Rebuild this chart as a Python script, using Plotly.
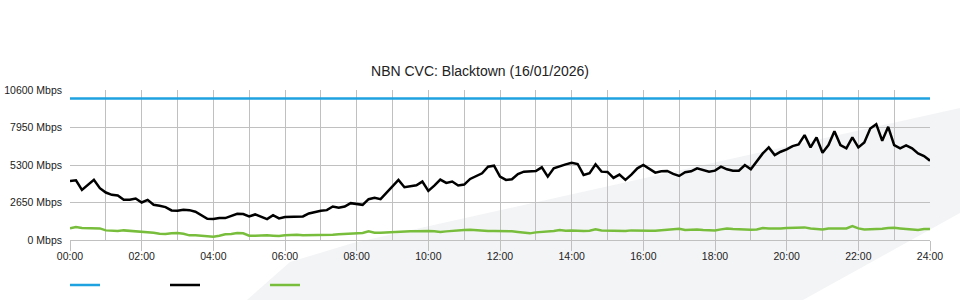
import plotly.graph_objects as go

# ---- data (10-minute samples, 00:00 .. 24:00) ----
capacity = 10000
traffic = [
    4174, 4220, 3540, 3893, 4260, 3659, 3354, 3190, 3143, 2838,
    2838, 2932, 2650, 2838, 2486, 2416, 2322, 2088, 2064, 2135,
    2111, 1994, 1736, 1501, 1478, 1550, 1548, 1712, 1853, 1830,
    1665, 1806, 1665, 1478, 1759, 1525, 1618, 1618, 1618, 1665,
    1876, 1994, 2064, 2111, 2369, 2275, 2369, 2603, 2565, 2486,
    2885, 2978, 2885, 3354, 3823, 4245, 3729, 3776, 3870, 4128,
    3471, 3847, 4268, 4034, 4128, 3847, 3917, 4315, 4526, 4714,
    5183, 5253, 4479, 4245, 4292, 4667, 4831, 4854, 4878, 5136,
    4479, 5066, 5230, 5347, 5464, 5370, 4597, 4714, 5347, 4831,
    4808, 4385, 4620, 4245, 4620, 5066, 5300, 5042, 4761, 4854,
    4878, 4667, 4526, 4784, 4854, 5066, 4948, 4831, 4901, 5183,
    4995, 4901, 4901, 5300, 4995, 5581, 6121, 6543, 6003, 6238,
    6400, 6637, 6754, 7410, 6543, 7246, 6168, 6707, 7692, 6707,
    6473, 7246, 6543, 6895, 7880, 8184, 7012, 7997, 6707, 6473,
    6684, 6473, 6121, 5933, 5605,
]
other = [
    820, 915, 844, 844, 820, 820, 680, 657, 633, 680,
    657, 610, 586, 563, 516, 446, 422, 469, 492, 446,
    328, 328, 305, 258, 234, 305, 399, 422, 492, 469,
    305, 305, 328, 328, 305, 281, 328, 352, 375, 328,
    328, 352, 352, 375, 375, 399, 422, 446, 469, 492,
    610, 516, 516, 539, 586, 610, 633, 610, 610, 633,
    633, 610, 563, 610, 657, 680, 703, 727, 680, 633,
    633, 633, 633, 633, 610, 563, 516, 469, 539, 563,
    586, 633, 703, 657, 680, 633, 633, 657, 750, 680,
    657, 633, 657, 633, 680, 657, 680, 657, 657, 703,
    703, 774, 797, 703, 727, 750, 703, 703, 680, 750,
    820, 774, 750, 703, 727, 750, 844, 820, 797, 820,
    844, 844, 868, 891, 820, 774, 750, 820, 820, 820,
    820, 985, 820, 750, 750, 774, 797, 844, 868, 820,
    797, 750, 703, 774, 774,
]
hours = [i / 6 for i in range(len(traffic))]
x_tick_vals = list(range(0, 25, 2))
x_tick_text = ["%02d:00" % h for h in x_tick_vals]
y_tick_vals = [0, 2650, 5300, 7950, 10600]
y_tick_text = ["%d Mbps" % v for v in y_tick_vals]
title = "NBN CVC: Blacktown (16/01/2026)"

BLUE = "#1ea2e0"
BLACK = "#000000"
GREEN = "#78be3c"
GRID = "#c0c0c0"

# plot area in pixels (for background decoration conversion)
L, R, T, B = 70, 930, 90, 240
def px(x, y):
    return (x - L) / (R - L), (B - y) / (B - T)

def path(points):
    pts = [px(*p) for p in points]
    return "M " + " L ".join("%.4f,%.4f" % p for p in pts) + " Z"

fig = go.Figure()
fig.add_trace(go.Scatter(x=hours, y=[capacity] * len(hours), mode="lines",
                         line=dict(color=BLUE, width=2.5), name=" "))
fig.add_trace(go.Scatter(x=hours, y=traffic, mode="lines",
                         line=dict(color=BLACK, width=2.5), name=" "))
fig.add_trace(go.Scatter(x=hours, y=other, mode="lines",
                         line=dict(color=GREEN, width=2.5), name=" "))

# decorative background swoosh
fig.add_shape(type="path", xref="paper", yref="paper", layer="below",
              path=path([(247, 300), (290, 262), (353, 243), (960, 108),
                         (960, 213), (803, 300)]),
              fillcolor="#f3f4f6", line=dict(width=0))

fig.update_layout(
    width=960, height=300,
    margin=dict(l=L, r=960 - R, t=T, b=300 - B, autoexpand=False),
    paper_bgcolor="white", plot_bgcolor="rgba(0,0,0,0)",
    font=dict(family="Liberation Sans, Arial, sans-serif", size=10.5, color="#222222"),
    title=dict(text=title, x=0.5, xanchor="center", y=1 - 71 / 300, yanchor="middle",
               font=dict(size=14, color="#222222")),
    showlegend=True,
    legend=dict(orientation="h", x=-5 / 860, xanchor="left", y=-45 / 150, yanchor="middle",
                entrywidth=55, entrywidthmode="pixels", itemwidth=30,
                font=dict(size=10), bgcolor="rgba(0,0,0,0)"),
    xaxis=dict(range=[0, 24], tickvals=x_tick_vals, ticktext=x_tick_text,
               showgrid=True, gridcolor=GRID, gridwidth=1,
               minor=dict(dtick=1, showgrid=True, gridcolor=GRID, gridwidth=1, ticklen=0),
               showline=True, linecolor=GRID, linewidth=1,
               ticks="outside", ticklen=10, tickcolor=GRID, ticklabelstandoff=-4,
               zeroline=False, fixedrange=True),
    yaxis=dict(range=[0, 10600], tickvals=y_tick_vals, ticktext=y_tick_text,
               showgrid=True, gridcolor=GRID, gridwidth=1, ticklabelstandoff=7,
               zeroline=False, ticks="", ticklen=0, fixedrange=True),
)
fig.write_html("out.html")
